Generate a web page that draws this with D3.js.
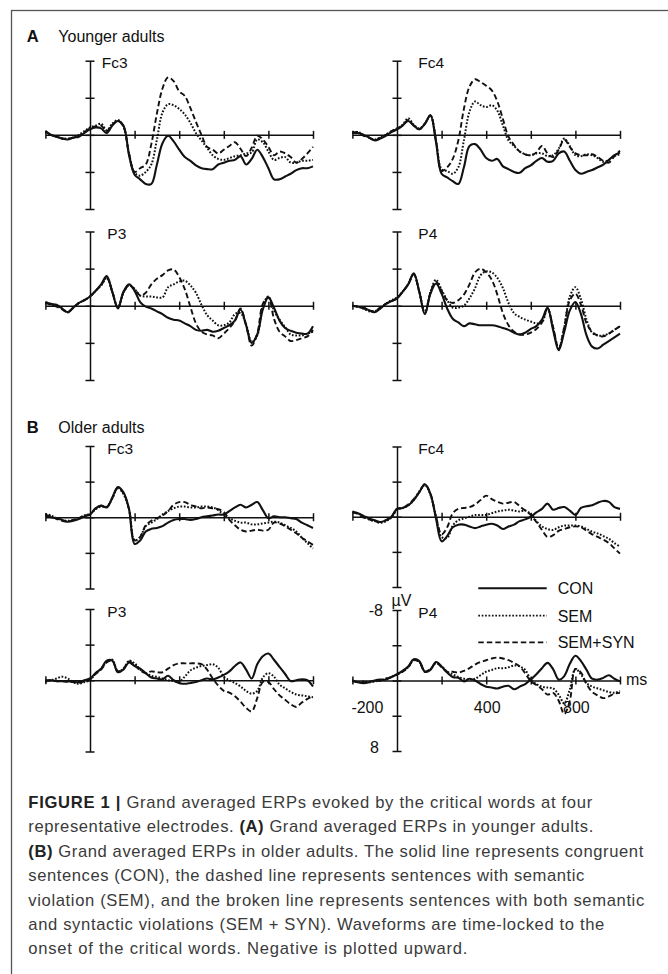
<!DOCTYPE html>
<html><head><meta charset="utf-8">
<script src="https://cdn.jsdelivr.net/npm/d3@7"></script>
<style>
body{margin:0;background:#fff}
svg{display:block}
text{font-family:"Liberation Sans",Arial,Helvetica,sans-serif}
</style>
</head><body>
<svg id="c" width="668" height="974"></svg>
<script>
// ---------- DATA ----------
const times = [-200,-175,-150,-125,-100,-75,-50,-25,0,25,50,75,100,125,150,175,200,225,250,275,300,325,350,375,400,425,450,475,500,525,550,575,600,625,650,675,700,725,750,775,800,825,850,875,900,925,950,975,1000];
const conditions = ["CON","SEM","SEM+SYN"];
const yTicks = [-8,-4,0,4,8];
const xTicks = [-200,200,400,600,800,1000];
const xTickLabels = [-200,400,800];
const yTickLabels = [-8,8];

// (A) Younger adults
const yFc3_CON = [-0.4,0,0.2,0.4,0.5,0.3,0.2,-0.2, -0.6,-0.8,-0.7,-0.2,-1.0,-1.5,-1.0,2.2, 4.3,4.8,5.3,5.3,3.2,0.9,0.1,0.7, 1.6,2.4,2.8,3.3,3.6,3.7,3.7,3.2, 3.0,2.8,2.7,2.3,3.2,2.6,1.6,2.4, 3.6,4.8,4.8,4.5,4.2,3.8,3.6,3.6, 3.4];
const yFc3_SEM = [-0.3,0,0.2,0.4,0.4,0.3,0,-0.4, -0.8,-1.0,-1.2,-0.5,-1.2,-1.6,-0.9,2.0, 4.1,4.4,4.0,3.2,0.5,-2.4,-3.3,-3.2, -2.8,-2.2,-1.3,-0.2,0.6,1.4,2.2,2.6, 2.7,2.5,2.3,2.2,2.0,1.9,0.5,0.8, 1.8,2.7,2.5,2.4,3.0,3.0,2.8,2.8, 2.7];
const yFc3_SYN = [-0.4,0,0.2,0.4,0.4,0.3,0.1,-0.3, -0.7,-0.9,-1.0,-0.4,-1.1,-1.5,-0.9,2.0, 4.0,3.6,3.2,1.0,-2.3,-5.0,-6.2,-5.8, -4.7,-4.2,-2.9,-1.4,0,1.3,1.6,2.0, 1.6,1.2,0.8,1.5,2.3,1.4,0.1,0.5, 1.3,2.2,1.8,2.0,2.4,3.0,2.6,2.0, 1.3];

const yFc4_CON = [-0.2,-0.2,0,0.3,0.6,0.4,0.1,-0.3, -0.6,-1.0,-1.5,-1.0,-0.6,-1.2,-2.1,0.8, 4.2,4.6,5.0,5.3,3.5,1.2,1.0,1.6, 2.5,2.8,2.6,3.4,3.7,4.0,4.1,3.6, 3.3,2.8,2.5,2.9,2.8,2.0,1.8,2.8, 3.8,4.2,4.0,3.8,3.5,3.2,2.7,2.2, 1.9];
const yFc4_SEM = [-0.3,-0.3,0,0.3,0.5,0.3,0,-0.4, -0.7,-1.1,-1.8,-1.1,-0.7,-1.2,-2.1,0.6, 3.7,3.9,4.2,3.5,0.6,-2.5,-3.6,-3.2, -3.0,-3.2,-2.6,-1.0,0.6,1.2,1.8,2.1, 2.2,2.0,2.0,2.3,2.2,1.5,0.4,1.2, 2.2,2.3,2.1,2.2,2.5,2.9,2.7,2.3, 2.1];
const yFc4_SYN = [-0.2,-0.3,0.1,0.3,0.6,0.3,0,-0.4, -0.6,-1.0,-1.6,-1.0,-0.6,-1.2,-2.1,0.6, 3.9,3.5,2.6,0.6,-2.8,-5.2,-6.0,-5.7, -5.3,-4.8,-3.6,-1.7,0.2,1.1,1.8,2.1, 2.2,1.9,1.2,2.0,2.4,1.6,0.5,1.3, 2.0,2.2,2.2,2.1,2.4,2.8,3.0,2.3, 1.7];

const yP3_CON = [-0.4,-0.2,-0.1,0.3,0.7,0.2,-0.3,-0.6, -1.0,-1.6,-2.3,-3.2,-1.5,0.3,-1.5,-2.3, -1.6,-0.4,0.1,0.3,0.6,0.9,1.3,1.5, 1.6,1.9,2.2,2.6,2.7,2.6,2.8,2.7, 2.4,2.1,1.6,0.4,2.1,4.0,3.1,0.4, -0.9,0.2,1.6,2.4,2.7,2.9,3.0,3.0, 2.2];
const yP3_SEM = [-0.3,-0.1,0,0.3,0.7,0.2,-0.3,-0.6, -1.0,-1.6,-2.2,-3.0,-1.5,0.2,-1.4,-2.2, -1.8,-1.1,-1.0,-1.0,-0.9,-0.9,-2.0,-2.3, -2.6,-2.7,-2.2,-1.4,-0.1,1.0,1.6,2.1, 2.1,1.8,0.9,0.8,2.0,3.9,3.2,0.0, -1.0,0.5,1.5,2.3,3.1,3.2,3.2,3.0, 2.8];
const yP3_SYN = [-0.3,-0.1,0.1,0.4,0.7,0.2,-0.3,-0.6, -1.0,-1.6,-2.2,-3.0,-1.5,0.2,-1.4,-2.2, -1.8,-1.1,-1.4,-2.3,-2.9,-3.3,-3.8,-3.9, -3.1,-1.8,0.1,1.9,2.8,3.1,3.2,3.5, 3.0,2.4,1.6,0.3,2.1,4.3,3.0,-0.2, -0.9,1.4,2.8,3.3,3.8,3.7,3.5,3.3, 2.6];

const yP4_CON = [0,0.1,0.2,0.5,0.7,0.3,-0.2,-0.5, -0.8,-1.5,-2.3,-3.5,-1.5,0.9,-1.3,-2.4, -1.3,0.3,1.4,1.8,2.2,1.9,2.0,2.1, 2.1,2.1,2.2,2.4,2.6,2.9,3.1,2.9, 2.5,2.2,1.5,0.2,2.6,4.8,2.8,0.5, -0.4,0.9,3.2,4.4,4.6,4.2,3.8,3.4, 3.0];
const yP4_SEM = [0,0.1,0.3,0.6,0.6,0.2,-0.2,-0.6, -0.9,-1.5,-2.3,-3.4,-1.5,0.8,-1.5,-2.8, -1.7,-0.6,0.2,0.2,0.0,-0.8,-1.9,-3.3, -3.7,-3.6,-3.0,-1.9,-0.3,0.8,1.2,1.5, 1.7,1.9,1.8,0.3,2.4,4.6,2.3,-1.0, -2.0,-0.7,1.5,2.9,3.2,3.2,3.0,2.6, 2.2];
const yP4_SYN = [0,0.1,0.3,0.5,0.6,0.2,-0.2,-0.5, -0.8,-1.5,-2.3,-3.4,-1.5,0.8,-1.4,-2.6, -1.6,-0.6,-0.3,-0.6,-1.2,-2.3,-3.6,-4.0, -3.6,-2.8,-1.2,0.8,2.1,2.8,3.1,3.1, 2.9,2.5,1.8,0.3,2.3,4.6,2.3,-0.6, -1.3,-0.1,1.9,2.8,3.2,3.3,3.0,2.6, 2.2];

// (B) Older adults
const oFc3_CON = [-0.2,0,0.1,0.3,0.5,0.4,0.2,-0.1, -0.3,-1.0,-1.3,-1.1,-2.2,-3.4,-2.8,-0.9, 3.0,2.6,1.6,1.3,1.2,1.0,0.6,0.3, 0.2,0.2,0.3,0.2,0,-0.1,-0.2,-0.3, -0.3,-0.7,-1.1,-1.4,-1.1,-1.4,-1.7,-0.8, 0.1,-0.1,0,0,0.1,0.2,0.6,0.9, 1.2];
const oFc3_SEM = [-0.4,-0.2,0.1,0.3,0.4,0.3,0.1,-0.2, -0.4,-0.9,-1.2,-1.2,-2.1,-3.3,-2.6,-0.9, 2.6,2.2,1.0,0.6,0.2,-0.3,-0.7,-1.0, -1.2,-1.2,-1.1,-1.1,-1.2,-1.2,-1.1,-0.8, -0.3,0.1,0.4,0.6,0.6,0.8,0.8,0.7, 0.6,0.5,0.6,0.9,1.2,1.6,2.3,2.9, 3.5];
const oFc3_SYN = [-0.3,-0.1,0.2,0.4,0.5,0.3,0.1,-0.2, -0.3,-1.0,-1.3,-1.1,-2.2,-3.3,-2.7,-0.9, 2.6,2.2,0.9,0.4,0.1,-0.2,-0.7,-1.4, -1.7,-1.7,-1.4,-1.2,-1.0,-1.1,-1.0,-0.9, -0.6,0.3,0.9,1.4,1.6,1.5,1.4,1.5, 1.4,0.6,0.7,1.0,1.4,1.8,2.3,2.7, 3.1];

const oFc4_CON = [-0.6,-0.4,-0.1,0.2,0.4,0.6,0.4,0.0, -0.9,-1.0,-1.3,-1.9,-2.8,-3.7,-2.6,0.2, 2.8,2.2,1.2,0.9,0.9,1.1,1.3,1.1, 0.9,0.8,1.0,1.4,1.1,0.9,0.5,0.3, 0.0,-0.5,-0.9,-1.5,-0.8,-1.0,-1.1,-0.7, -0.2,-1.0,-1.2,-1.3,-1.6,-1.8,-1.7,-1.1, -0.9];
const oFc4_SEM = [-0.5,-0.4,0.0,0.3,0.5,0.7,0.5,0.1, -0.8,-1.0,-1.3,-1.9,-2.9,-3.6,-2.5,0.0, 2.3,2.4,1.0,0.4,0.2,0.0,-0.2,-0.2, -0.2,-0.4,-0.6,-0.7,-0.8,-0.7,-0.6,-0.7, -0.3,0.5,1.1,1.4,1.5,1.2,1.0,1.0, 1.0,1.1,1.4,1.7,1.9,2.2,2.5,3.0, 3.4];
const oFc4_SYN = [-0.5,-0.3,0.1,0.3,0.5,0.6,0.4,0.0, -0.9,-1.0,-1.4,-2.0,-2.8,-3.7,-2.6,0.0, 2.0,1.2,-0.4,-0.9,-1.0,-1.1,-1.4,-1.9, -2.4,-2.0,-1.7,-1.5,-1.6,-1.7,-1.2,-0.7, -0.2,0.6,1.5,2.3,2.1,1.6,1.4,1.2, 1.1,1.2,1.6,2.0,2.3,2.6,3.0,3.6, 4.2];

const oP3_CON = [0,0,0.1,0.1,0.1,0.2,0.2,0, -0.2,-0.8,-1.3,-2.2,-2.2,-0.9,-1.2,-2.0, -1.6,-1.3,-0.8,-0.3,-0.2,-0.1,-0.5,0.0, 0.3,0.4,0.3,0.2,0,-0.2,-0.1,-0.3, -0.6,-1.0,-1.6,-2.0,-1.2,-0.2,-1.8,-2.7, -3.0,-2.3,-1.5,-0.7,0.1,0,-0.1,0.0, 0.7];
const oP3_SEM = [0.2,0,-0.2,-0.4,-0.2,0.2,0.4,0.2, 0,-0.8,-1.3,-2.1,-2.3,-1.0,-1.3,-2.2, -1.9,-1.2,-0.8,-0.5,-0.4,-0.2,0,0.1, 0.2,-0.4,-1.1,-1.4,-1.6,-1.7,-1.8,-1.4, -0.4,0,0.3,0.7,1.2,1.5,1.2,-0.3, -0.8,-0.4,0.5,0.9,1.3,1.6,1.7,1.8, 1.9];
const oP3_SYN = [0.1,0,0.1,0.1,0.2,0.2,0.3,0.1, -0.1,-0.7,-1.2,-2.0,-2.2,-1.0,-1.3,-2.1, -1.7,-1.1,-0.8,-1.0,-0.9,-0.9,-1.3,-1.7, -1.9,-1.9,-1.9,-1.9,-1.8,-1.2,-0.2,0.6, 1.2,1.4,1.8,2.4,3.1,3.5,2.0,0.2, 0.2,1.0,1.7,2.2,2.7,3.0,2.5,2.1, 1.8];

const oP4_CON = [0,0.2,0.3,0.2,0.0,-0.1,-0.1,-0.4, -0.7,-1.1,-1.6,-2.4,-2.2,-1.0,-1.2,-2.1, -1.6,-0.9,-0.4,-0.3,0.1,-0.2,0.0,0.4, 0.7,0.8,0.9,0.7,0.6,1.0,0.7,0.4, -0.1,-0.7,-1.4,-2.0,-1.3,-0.1,-0.5,-1.9, -2.8,-2.2,-1.2,-0.2,-0.1,-0.3,-0.6,-0.2, 0.1];
const oP4_SEM = [0,0.2,0.1,0.2,0.1,0,-0.2,-0.4, -0.7,-1.0,-1.5,-2.3,-2.1,-1.0,-1.3,-2.0, -1.6,-1.0,-0.7,-0.4,-0.2,-0.1,-0.2,-0.6, -1.0,-1.2,-1.4,-1.4,-1.5,-1.7,-1.6,-1.2, -0.1,0.4,0.7,0.8,0.9,1.6,2.6,1.0, -1.3,-0.7,0.3,0.7,0.9,1.1,1.3,1.4, 1.2];
const oP4_SYN = [0.1,0.2,0.2,0.1,0.1,0,-0.2,-0.4, -0.7,-1.0,-1.5,-2.3,-2.1,-1.0,-1.3,-2.0, -1.5,-1.0,-1.0,-0.9,-1.1,-1.4,-1.8,-2.1, -2.3,-2.5,-2.6,-2.5,-2.3,-2.0,-1.6,-0.8, 0.1,0.5,1.0,1.6,1.4,2.3,3.8,2.3, -1.3,-0.9,0.4,1.3,1.7,2.0,1.8,1.5, 1.4];

const captionLines = [
  [["FIGURE 1 |",1],[" Grand averaged ERPs evoked by the critical words at four",0]],
  [["representative electrodes. ",0],["(A)",1],[" Grand averaged ERPs in younger adults.",0]],
  [["(B)",1],[" Grand averaged ERPs in older adults. The solid line represents congruent",0]],
  [["sentences (CON), the dashed line represents sentences with semantic",0]],
  [["violation (SEM), and the broken line represents sentences with both semantic",0]],
  [["and syntactic violations (SEM + SYN). Waveforms are time-locked to the",0]],
  [["onset of the critical words. Negative is plotted upward.",0]]
];

// ---------- LAYOUT ----------
const svg = d3.select("#c");
svg.append("rect").attr("x",11.5).attr("y",10.5).attr("width",720).attr("height",1000)
  .attr("fill","none").attr("stroke","#555").attr("stroke-width",1.3);

const styles = [
  {dash:null, w:2.1},          // CON solid
  {dash:"1.7,1.7", w:2.0},     // SEM dotted
  {dash:"5.5,3", w:1.9}        // SEM+SYN dashed
];

const panels = [
  {name:"Fc3", s:[yFc3_CON,yFc3_SEM,yFc3_SYN], ax:90,  top:60.7, bot:209, lx:101.7},
  {name:"Fc4", s:[yFc4_CON,yFc4_SEM,yFc4_SYN], ax:397, top:60.7, bot:209, lx:418.3},
  {name:"P3",  s:[yP3_CON,yP3_SEM,yP3_SYN],    ax:90,  top:231.5, bot:380, lx:107.3},
  {name:"P4",  s:[yP4_CON,yP4_SEM,yP4_SYN],    ax:397, top:231.5, bot:380, lx:418.3},
  {name:"Fc3", s:[oFc3_CON,oFc3_SEM,oFc3_SYN], ax:90,  top:446, bot:588.5, lx:107.3},
  {name:"Fc4", s:[oFc4_CON,oFc4_SEM,oFc4_SYN], ax:397, top:446.5, bot:587, lx:418.3},
  {name:"P3",  s:[oP3_CON,oP3_SEM,oP3_SYN],    ax:90,  top:609, bot:751.5, lx:107.3},
  {name:"P4",  s:[oP4_CON,oP4_SEM,oP4_SYN],    ax:397, top:610, bot:751, lx:418.3, labels:true}
];

const axisColor = "#111";
panels.forEach(p => {
  const x = d3.scaleLinear().domain([-200,1000]).range([p.ax-44.6, p.ax+223]);
  const y = d3.scaleLinear().domain([-8,8]).range([p.top,p.bot]);
  const g = svg.append("g");

  const ya = g.append("g").attr("transform",`translate(${p.ax},0)`)
    .call(d3.axisLeft(y).tickValues(yTicks).tickSizeOuter(0).tickFormat(""));
  ya.selectAll(".tick line").attr("x1",-4.5).attr("x2",4.5);
  const xa = g.append("g").attr("transform",`translate(0,${y(0)})`)
    .call(d3.axisBottom(x).tickValues(xTicks).tickSizeOuter(0).tickFormat(""));
  xa.selectAll(".tick line").attr("y1",-4).attr("y2",4);
  g.selectAll(".domain, .tick line").attr("stroke",axisColor).attr("stroke-width",1.5);

  const line = d3.line().x((d,i)=>x(times[i])).y(d=>y(d)).curve(d3.curveCatmullRom.alpha(0.5));
  [2,1,0].forEach(k => {
    g.append("path").datum(p.s[k]).attr("d",line)
      .attr("fill","none").attr("stroke","#111")
      .attr("stroke-width",styles[k].w)
      .attr("stroke-dasharray",styles[k].dash)
      .attr("stroke-linejoin","round");
  });

  g.append("text").attr("x",p.lx).attr("y",p.top+7.5).attr("font-size",15.5).attr("fill","#111").text(p.name);

  if (p.labels) {
    yTickLabels.forEach(v => {
      g.append("text").attr("x", v<0 ? p.ax-14 : p.ax-18).attr("y", v<0 ? y(v)+5.5 : y(v)+1.8)
        .attr("text-anchor","end").attr("font-size",16).attr("fill","#111").text(v);
    });
    g.append("text").attr("x",p.ax+4.5).attr("y",y(-8)-4.5).attr("text-anchor","middle")
      .attr("font-size",16).attr("fill","#111").text("µV");
    xTickLabels.forEach(v => {
      g.append("text").attr("x", v===-200 ? x(v)+15 : x(v)+1)
        .attr("y", y(0)+32.5).attr("text-anchor","middle").attr("font-size",16).attr("fill","#111").text(v);
    });
    g.append("text").attr("x",x(1000)+6).attr("y",y(0)+4.5).attr("font-size",16).attr("fill","#111").text("ms");
  }
});

// Section headings
[["A","Younger adults",41.7],["B","Older adults",433.3]].forEach(([l,t,yy]) => {
  svg.append("text").attr("x",26.7).attr("y",yy).attr("font-size",16.5).attr("font-weight","bold").attr("fill","#111").text(l);
  svg.append("text").attr("x",58.3).attr("y",yy).attr("font-size",16).attr("fill","#111").text(t);
});

// Legend
const legY = [588.3, 615.7, 642.3];
conditions.forEach((c,k) => {
  svg.append("line").attr("x1",478.3).attr("x2",546.7).attr("y1",legY[k]).attr("y2",legY[k])
    .attr("stroke","#111").attr("stroke-width",k===0?2:1.8).attr("stroke-dasharray",styles[k].dash);
  svg.append("text").attr("x",557.7).attr("y",legY[k]+6).attr("font-size",16).attr("fill","#111").text(c);
});

// Caption
const capTargets = [564, 565, 615, 556, 616, 576, 439];
captionLines.forEach((parts,i) => {
  const t = svg.append("text").attr("x",28.3).attr("y",808+i*24.4).attr("font-size",16.6).attr("fill","#3a3a3a");
  parts.forEach(([s,b]) => {
    const ts = t.append("tspan").text(s);
    if (b) ts.attr("font-weight","bold").attr("fill","#222");
  });
  const nat = t.node().getComputedTextLength();
  const n = parts.map(d=>d[0]).join("").length;
  const ls = (capTargets[i]-nat)/(n-1);
  t.attr("letter-spacing", ls.toFixed(3)+"px");
});
</script>
</body></html>
